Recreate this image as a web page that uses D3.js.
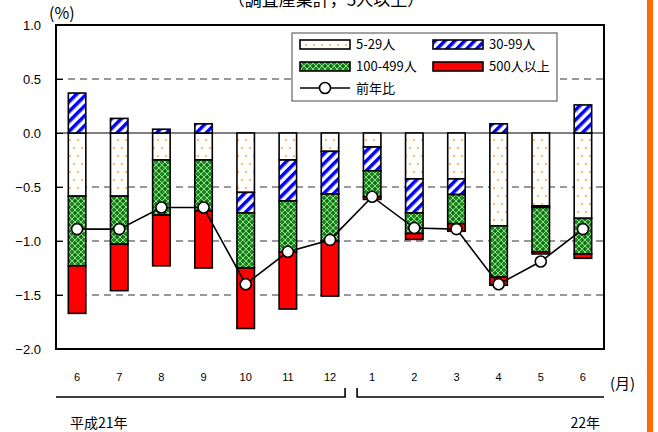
<!DOCTYPE html>
<html>
<head>
<meta charset="utf-8">
<script src="https://cdn.jsdelivr.net/npm/d3@7"></script>
<style>
  body { margin: 0; background: #fff; }
  text { font-family: "Liberation Sans", Arial, sans-serif; }
  .jp { font-family: "Noto Sans CJK JP", sans-serif; }
</style>
</head>
<body>
<div id="chart"></div>
<script>
// months (平成21年6月 - 22年6月)
const months = ["6","7","8","9","10","11","12","1","2","3","4","5","6"];
// contribution by establishment size (%)
const size5_29   = [-0.585,-0.585,-0.25,-0.25,-0.55,-0.25,-0.17,-0.13,-0.425,-0.425,-0.86,-0.675,-0.79];
const size30_99  = [0.37,0.135,0.035,0.085,-0.19,-0.38,-0.395,-0.22,-0.315,-0.145,0.085,-0.015,0.26];
const size100_499= [-0.645,-0.445,-0.51,-0.47,-0.51,-0.47,-0.435,-0.24,-0.19,-0.27,-0.475,-0.41,-0.33];
const size500    = [-0.44,-0.43,-0.47,-0.53,-0.56,-0.53,-0.51,-0.025,-0.055,-0.07,-0.075,-0.02,-0.04];
// 前年比
const yoy = [-0.89,-0.89,-0.69,-0.69,-1.40,-1.10,-0.99,-0.59,-0.88,-0.89,-1.40,-1.19,-0.89];
const yTicks = [1.0,0.5,0.0,-0.5,-1.0,-1.5,-2.0];
const keys = ["s5","s30","s100","s500"];
const legendNames = {s5:"5-29人", s30:"30-99人", s100:"100-499人", s500:"500人以上"};

const W = 658, H = 432;
const margin = {left:56, right:54, top:25, bottom:83};

const svg = d3.select("#chart").append("svg")
    .attr("width", W).attr("height", H);

// patterns
const defs = svg.append("defs");
const pDots = defs.append("pattern").attr("id","pDots")
    .attr("patternUnits","userSpaceOnUse").attr("width",8).attr("height",16);
pDots.append("rect").attr("width",8).attr("height",16).attr("fill","#fff");
pDots.append("circle").attr("cx",2).attr("cy",4).attr("r",1).attr("fill","#ffa030");
pDots.append("circle").attr("cx",6).attr("cy",12).attr("r",1).attr("fill","#ffa030");

const pStripe = defs.append("pattern").attr("id","pStripe")
    .attr("patternUnits","userSpaceOnUse").attr("width",7).attr("height",7)
    .attr("patternTransform","rotate(45)");
pStripe.append("rect").attr("width",7).attr("height",7).attr("fill","#fff");
pStripe.append("rect").attr("width",3.5).attr("height",7).attr("fill","#0000ff");

const pGreen = defs.append("pattern").attr("id","pGreen")
    .attr("patternUnits","userSpaceOnUse").attr("width",6).attr("height",6);
pGreen.append("rect").attr("width",6).attr("height",6).attr("fill","#168c16");
pGreen.append("path").attr("d","M0,3L3,0L6,3L3,6Z")
    .attr("fill","none").attr("stroke","#a8d8a8").attr("stroke-width",0.9);
pGreen.append("circle").attr("cx",3).attr("cy",3).attr("r",0.9).attr("fill","#0b5e0b");

const fills = {s5:"url(#pDots)", s30:"url(#pStripe)", s100:"url(#pGreen)", s500:"#ff0000"};

const x = d3.scaleBand().domain(d3.range(months.length))
    .range([margin.left, W - margin.right])
    .paddingInner(0.585).paddingOuter(0.2925);
const y = d3.scaleLinear().domain([-2, 1]).range([H - margin.bottom, margin.top]);

// title (clipped at top, as in the original)
svg.append("text").attr("class","jp")
    .attr("x", 326).attr("y", 6).attr("text-anchor","middle")
    .style("font-size","17px").text("（調査産業計，5人以上）");

svg.append("text").attr("class","jp")
    .attr("x", 49).attr("y", 19)
    .style("font-size","16px").text("(%)");

// grid
svg.append("g").selectAll("line")
    .data(yTicks.filter(d => d !== 1 && d !== -2))
    .enter().append("line")
    .attr("x1", margin.left).attr("x2", W - margin.right)
    .attr("y1", d => y(d)).attr("y2", d => y(d))
    .attr("stroke", d => d === 0 ? "#000" : "#333")
    .attr("stroke-width", 1)
    .attr("stroke-dasharray", d => d === 0 ? null : "7,5");

// y axis
const yAxis = svg.append("g")
    .attr("transform","translate(" + margin.left + ",0)")
    .call(d3.axisLeft(y).tickValues(yTicks).tickSizeInner(-7).tickSizeOuter(0).tickPadding(15));
yAxis.select(".domain").remove();
yAxis.selectAll("line").attr("stroke","#000");
yAxis.selectAll("text").style("font-size","13px")
    .style("font-family","'Liberation Sans', Arial, sans-serif")
    .text(d => d < 0 ? "\u2212" + d3.format(".1f")(-d) : d3.format(".1f")(d));

// stacked bars
const rows = months.map((m, i) => ({i:i, s5:size5_29[i], s30:size30_99[i], s100:size100_499[i], s500:size500[i]}));
const series = d3.stack().keys(keys).offset(d3.stackOffsetDiverging)(rows);

svg.append("g").selectAll("g")
    .data(series)
    .enter().append("g")
    .attr("fill", d => fills[d.key])
    .selectAll("rect")
    .data(d => d)
    .enter().append("rect")
    .attr("x", d => x(d.data.i))
    .attr("width", x.bandwidth())
    .attr("y", d => y(Math.max(d[0], d[1])))
    .attr("height", d => Math.abs(y(d[0]) - y(d[1])))
    .attr("stroke", "#000").attr("stroke-width", 1.6);

// 前年比 line
const line = d3.line().x((d, i) => x(i) + x.bandwidth()/2).y(d => y(d));
svg.append("path").datum(yoy)
    .attr("d", line).attr("fill","none").attr("stroke","#000").attr("stroke-width",1.6);
svg.append("g").selectAll("circle")
    .data(yoy).enter().append("circle")
    .attr("cx", (d, i) => x(i) + x.bandwidth()/2)
    .attr("cy", d => y(d))
    .attr("r", 5.5)
    .attr("fill","#fff").attr("stroke","#000").attr("stroke-width",1.6);

// plot frame
svg.append("rect")
    .attr("x", margin.left).attr("y", margin.top)
    .attr("width", W - margin.left - margin.right)
    .attr("height", H - margin.top - margin.bottom)
    .attr("fill","none").attr("stroke","#000").attr("stroke-width",2);

// legend
const lg = svg.append("g").attr("transform","translate(292,33)");
lg.append("rect").attr("width",265).attr("height",68)
    .attr("fill","#fff").attr("stroke","#666").attr("stroke-width",1.2);
const lgPos = {s5:[8,7], s30:[141,7], s100:[8,29], s500:[141,29]};
keys.forEach(k => {
    const p = lgPos[k];
    lg.append("rect").attr("x",p[0]).attr("y",p[1]).attr("width",50).attr("height",9)
        .attr("fill",fills[k]).attr("stroke","#000").attr("stroke-width",1.6);
    lg.append("text").attr("class","jp").attr("x",p[0]+56).attr("y",p[1]+9)
        .style("font-size","13px").text(legendNames[k]);
});
lg.append("line").attr("x1",8).attr("x2",58).attr("y1",55).attr("y2",55)
    .attr("stroke","#000").attr("stroke-width",1.6);
lg.append("circle").attr("cx",33).attr("cy",55).attr("r",5.5)
    .attr("fill","#fff").attr("stroke","#000").attr("stroke-width",1.6);
lg.append("text").attr("class","jp").attr("x",64).attr("y",60)
    .style("font-size","13px").text("前年比");

// month labels
svg.append("g").selectAll("text")
    .data(months).enter().append("text")
    .attr("x", (d, i) => x(i) + x.bandwidth()/2)
    .attr("y", 381)
    .attr("text-anchor","middle")
    .style("font-size","11px")
    .text(d => d);
svg.append("text").attr("class","jp")
    .attr("x", 610).attr("y", 389)
    .style("font-size","15px").text("(月)");

// year brackets
const xSplit = (x(6) + x.bandwidth() + x(7)) / 2;
svg.append("path")
    .attr("d", "M" + margin.left + ",397H" + (xSplit - 6) + "V388")
    .attr("fill","none").attr("stroke","#000").attr("stroke-width",1.6);
svg.append("path")
    .attr("d", "M" + (xSplit + 6) + ",388V397H" + (W - margin.right))
    .attr("fill","none").attr("stroke","#000").attr("stroke-width",1.6);
svg.append("text").attr("class","jp")
    .attr("x", 70).attr("y", 428)
    .style("font-size","14px").text("平成21年");
svg.append("text").attr("class","jp")
    .attr("x", 600).attr("y", 428).attr("text-anchor","end")
    .style("font-size","14px").text("22年");

// orange side bar
svg.append("rect").attr("x",647).attr("y",0).attr("width",6).attr("height",H)
    .attr("fill","#ff6a00");
</script>
</body>
</html>
